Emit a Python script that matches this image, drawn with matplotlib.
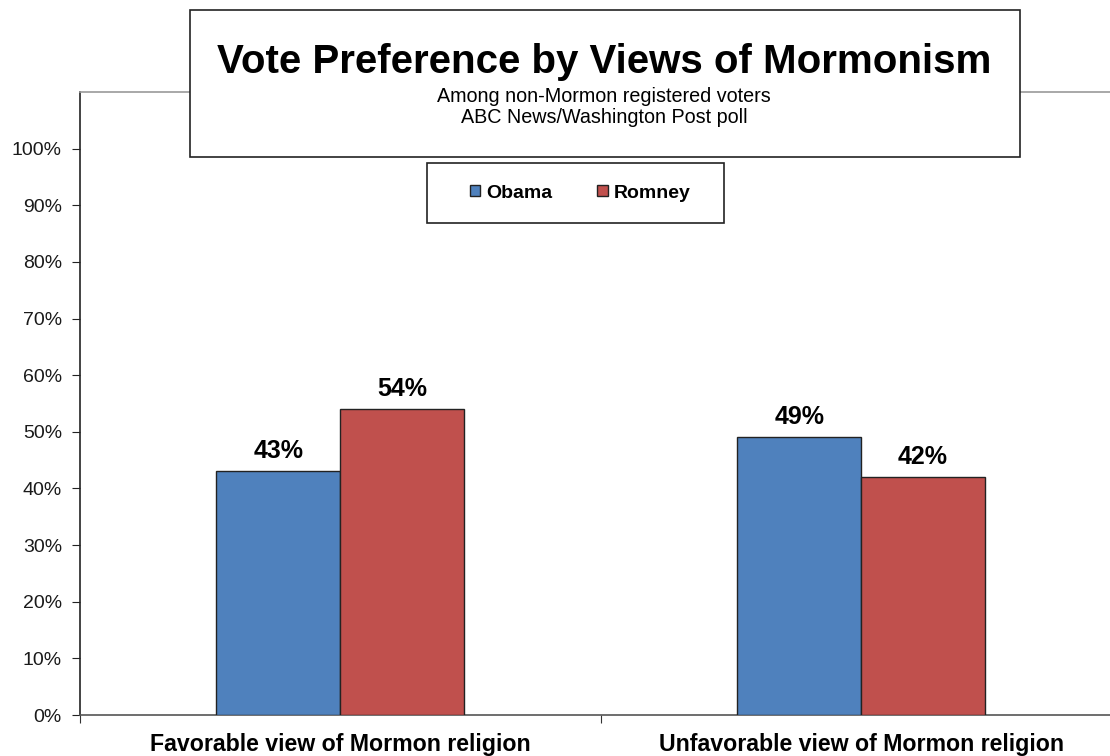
import matplotlib
matplotlib.use("Agg")
import matplotlib.pyplot as plt
from matplotlib.patches import Rectangle
import numpy as np

categories = ["Favorable view of Mormon religion", "Unfavorable view of Mormon religion"]
series_names = ["Obama", "Romney"]
obama = [43, 49]
romney = [54, 42]
colors = ["#4F81BD", "#C0504D"]
yticks = [0, 10, 20, 30, 40, 50, 60, 70, 80, 90, 100]
title = "Vote Preference by Views of Mormonism"
subtitle = "Among non-Mormon registered voters\nABC News/Washington Post poll"

plt.rcParams['font.family'] = ['Liberation Sans', 'DejaVu Sans']

W, H = 1110, 756
fig = plt.figure(figsize=(W / 100, H / 100), dpi=100)
# axes: left x=80, right ~1121, top y=92, bottom y=715
ax = fig.add_axes([80 / W, 1 - 715 / H, (1121.5 - 80) / W, (715 - 92) / H])

x = np.arange(len(categories))
bw = 0.238
vals = [obama, romney]
for i, (name, v) in enumerate(zip(series_names, vals)):
    xs = x + (i - 0.5) * bw
    ax.bar(xs, v, width=bw, color=colors[i], edgecolor="#222222", linewidth=1.0,
           label=name, zorder=3)
    for xi, vi in zip(xs, v):
        ax.text(xi, vi + 1.5, f"{vi}%", ha="center", va="bottom", fontsize=18,
                fontweight="bold", color="black")

ax.set_xlim(-0.5, 1.5)
ax.set_ylim(0, 110)
ax.set_yticks(yticks)
ax.set_yticklabels([f"{t}%" for t in yticks], fontsize=14, color="#1a1a1a")
ax.set_xticks([-0.5, 0.5, 1.5])
ax.set_xticklabels([])
ax.set_xticks(x, minor=True)
ax.set_xticklabels(categories, minor=True, fontsize=16.7, fontweight="bold")
ax.tick_params(axis="x", which="minor", length=0, pad=13)
ax.tick_params(axis="x", which="major", length=6, direction="out", color="#333333")
ax.tick_params(axis="y", length=6, direction="out", color="#222222", pad=7)

ax.spines["left"].set_color("#222222")
ax.spines["bottom"].set_color("#555555")
ax.spines["top"].set_color("#999999")
ax.spines["right"].set_visible(False)
for s in ["left", "bottom", "top"]:
    ax.spines[s].set_linewidth(1.2)

# Title box
fig.patches.append(Rectangle((190 / W, 1 - 157 / H), (1020 - 190) / W, (157 - 10) / H,
                             transform=fig.transFigure, facecolor="white",
                             edgecolor="#222222", linewidth=1.2, zorder=5))
fig.text(604 / W, 1 - 62 / H, title, ha="center", va="center", fontsize=29,
         fontweight="bold", zorder=6)
fig.text(604 / W, 1 - 107 / H, subtitle, ha="center", va="center", fontsize=14.2,
         linespacing=1.15, zorder=6)

# Legend box
fig.patches.append(Rectangle((427 / W, 1 - 223 / H), (724 - 427) / W, (223 - 163) / H,
                             transform=fig.transFigure, facecolor="white",
                             edgecolor="#222222", linewidth=1.2, zorder=7))
leg = fig.legend(*ax.get_legend_handles_labels(), loc="center",
                 bbox_to_anchor=(580 / W, 1 - 193 / H),
                 ncol=2, frameon=False,
                 prop={"weight": "bold", "size": 14}, handlelength=0.55, handleheight=0.55,
                 handletextpad=0.3, columnspacing=2.3, borderpad=0, borderaxespad=0)
leg.set_zorder(10)

fig.savefig("out.png", dpi=100, facecolor="white")
